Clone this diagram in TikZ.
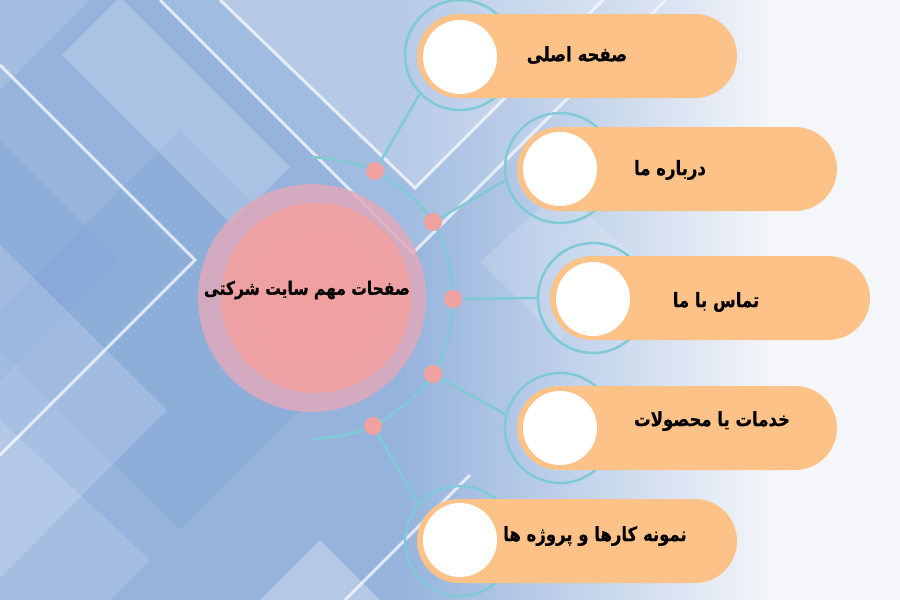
\documentclass[tikz,border=0pt]{standalone}
\usepackage{fontspec}
\usepackage{graphicx}
\usetikzlibrary{fadings}
\TeXXeTstate=1
\newfontfamily\arabicfont[Script=Arabic, BoldFeatures={FakeBold=0.6}]{DejaVu Sans}
\newcommand{\tallfa}[1]{\scalebox{1}[1.2]{\beginR #1\endR}}
\definecolor{basec}{HTML}{95B3DD}
\definecolor{darkc}{HTML}{80A4D5}
\definecolor{fadec}{HTML}{F4F6FA}
\definecolor{pillc}{HTML}{FCC288}
\definecolor{ringc}{HTML}{7FCAD6}
\definecolor{dotc}{HTML}{F2A1A1}
\definecolor{pinkc}{HTML}{F5A09C}
\definecolor{halo}{HTML}{E3A8B8}
\tikzfading[name=fadeR, left color=transparent!100, right color=transparent!0]
\tikzset{
  ring/.style={circle, draw=ringc, line width=2.5pt, minimum size=110pt, inner sep=0pt},
  pill/.style={rectangle, rounded corners=42pt, fill=pillc, minimum height=84pt, minimum width=320pt, inner sep=0pt},
  wcirc/.style={circle, fill=white, minimum size=74pt, inner sep=0pt},
  dot/.style={circle, fill=dotc, minimum size=18pt, inner sep=0pt},
  lbl/.style={font=\arabicfont\bfseries\fontsize{16.5}{20}\selectfont, text=black, inner sep=0pt},
  conn/.style={draw=ringc, line width=2.5pt},
  bgline/.style={draw=white, draw opacity=0.7, line width=3pt},
  lite/.style={fill=white, fill opacity=#1},
}
\begin{document}
\begin{tikzpicture}[x=1pt,y=-1pt]
\useasboundingbox (0,0) rectangle (900,600);
% background
\fill[basec] (0,0) rectangle (900,600);
\fill[darkc, fill opacity=0.3] (180,130) -- (380,330) -- (180,530) -- (-20,330) -- cycle;
\fill[darkc, fill opacity=0.3] (0,140) -- (120,260) -- (0,380) -- cycle;
\fill[lite=0.2] (62,55) -- (120,-3) -- (290,167) -- (232,225) -- cycle;
\fill[lite=0.15] (0,0) -- (90,0) -- (0,90) -- cycle;
\fill[lite=0.16] (0,245) -- (167,410) -- (0,578) -- cycle;
\fill[lite=0.15] (0,420) -- (150,560) -- (110,600) -- (0,600) -- cycle;
\fill[lite=0.3] (320,540) -- (380,600) -- (260,600) -- cycle;
\fill[lite=0.22] (220,0) -- (415,188) -- (605,0) -- cycle;
\fill[lite=0.12] (160,0) -- (413,253) -- (666,0) -- cycle;
\fill[lite=0.15] (480,262) -- (560,190) -- (640,262) -- (560,340) -- cycle;
\draw[bgline] (0,65) -- (195,260) -- (0,455);
\draw[bgline] (160,0) -- (413,253) -- (666,0);
\draw[bgline] (220,0) -- (415,188) -- (603,0);
\draw[bgline] (345,600) -- (470,475);
\fill[fadec, path fading=fadeR] (400,0) rectangle (770,600);
\fill[fadec] (769,0) rectangle (900,600);
% central circle
\fill[halo, fill opacity=0.8] (312,298) circle[radius=114];
\shade[inner color=pinkc, outer color=pinkc!80!halo, fill opacity=0.9] (316,298) circle[radius=95];
\node[font=\arabicfont\bfseries\fontsize{15.5}{19}\selectfont, inner sep=0pt] (c) at (307,290) {\tallfa{صفحات مهم سایت شرکتی}};
% arc
\draw[conn] plot[smooth, tension=0.6] coordinates {(312,157) (375,171) (433,222) (453,299) (433,374) (373,426) (312,439)};
% rings
\node[ring] (r1) at (460,55) {};
\node[ring] (r2) at (560,168) {};
\node[ring] (r3) at (593,298) {};
\node[ring] (r4) at (560,428) {};
\node[ring] (r5) at (460,541) {};
% dot positions and connectors
\coordinate (d1) at (375,171);
\coordinate (d2) at (433,222);
\coordinate (d3) at (453,299);
\coordinate (d4) at (433,374);
\coordinate (d5) at (373,426);
\draw[conn] (d1) -- (r1.224);
\draw[conn] (d2) -- (r2.193);
\draw[conn] (d3) -- (r3.west);
\draw[conn] (d4) -- (r4.166);
\draw[conn] (d5) -- (r5.138);
\node[dot] (dd1) at (d1) {};
\node[dot] (dd2) at (d2) {};
\node[dot] (dd3) at (d3) {};
\node[dot] (dd4) at (d4) {};
\node[dot] (dd5) at (d5) {};
% pills
\node[pill] (p1) at (577,56) {};
\node[pill] (p2) at (677,169) {};
\node[pill] (p3) at (710,298) {};
\node[pill] (p4) at (677,428) {};
\node[pill] (p5) at (577,541) {};
% white circles
\node[wcirc] (w1) at (460,57) {};
\node[wcirc] (w2) at (560,169) {};
\node[wcirc] (w3) at (593,299) {};
\node[wcirc] (w4) at (560,428) {};
\node[wcirc] (w5) at (460,540) {};
% labels
\node[lbl] (t1) at (577,55) {\tallfa{صفحه اصلی}};
\node[lbl] (t2) at (670,170) {\tallfa{درباره ما}};
\node[lbl] (t3) at (716,302) {\tallfa{تماس با ما}};
\node[lbl] (t4) at (712,421) {\tallfa{خدمات یا محصولات}};
\node[lbl] (t5) at (595,536) {\tallfa{نمونه کارها و پروژه ها}};
\end{tikzpicture}
\end{document}
